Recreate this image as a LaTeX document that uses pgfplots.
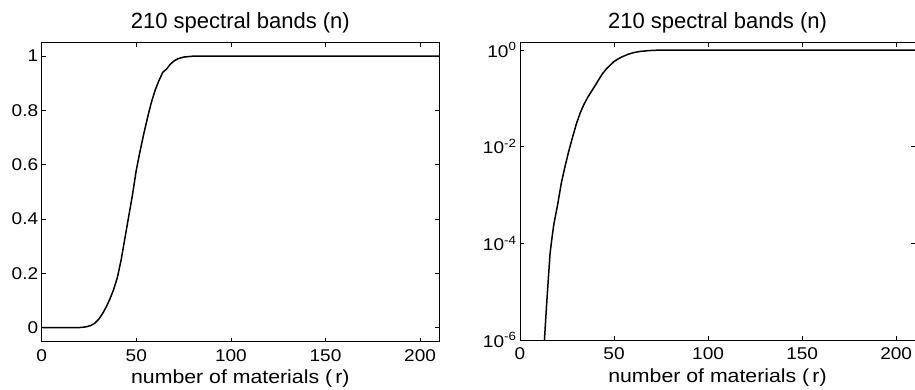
\documentclass[border=0pt]{standalone}
\usepackage{pgfplots}
\pgfplotsset{compat=1.18}
\usepackage{pgfplotstable}
\usepackage{fontspec}
\setmainfont{Liberation Sans}
\newfontfamily\widefont[FakeStretch=1.12]{Liberation Sans}
\pgfplotstableread{
x y
0 1e-14
5 1e-11
10 1.6e-8
11 6.3e-8
12 2.5e-7
13 1e-6
14 4.4e-6
15 1.7e-5
16 6.3e-5
17 1.3e-4
18 2.5e-4
20 6.3e-4
22 1.8e-3
24 4e-3
26 8.3e-3
28 0.016
30 0.03
32 0.05
34 0.075
36 0.105
38 0.14
40 0.185
42 0.25
44 0.33
46 0.41
48 0.49
50 0.58
52 0.65
54 0.715
56 0.775
58 0.83
60 0.875
62 0.91
64 0.94
66 0.952
68 0.97
70 0.982
72 0.99
75 0.996
80 0.9995
90 1
210 1
}\datatab
\pgfplotsset{
  common/.style={
    scale only axis,
    anchor=south west,
    xmin=0, xmax=210,
    xtick={0,50,100,150,200},
    tick align=inside,
    major tick length=4pt,
    axis line style={line width=0.8pt},
    every tick/.style={black, line width=0.6pt},
    /pgf/number format/assume math mode=true,
    tick label style={font=\widefont\fontsize{17}{20}\selectfont},
    xticklabel style={yshift=-4pt},
    title={210 spectral bands (n)},
    xlabel={number of materials (\,r)},
    title style={font=\fontsize{22}{26}\selectfont, yshift=0pt},
    xlabel style={font=\widefont\fontsize{19}{22}\selectfont, yshift=-2pt},
    clip=true,
  }
}
\begin{document}
\begin{tikzpicture}
\useasboundingbox (0,0) rectangle (915pt,390pt);
\begin{axis}[common,
  at={(41.7pt,48.3pt)},
  width=397.3pt, height=299pt,
  ymin=-0.0515, ymax=1.049,
  ytick={0,0.2,0.4,0.6,0.8,1},
  yticklabels={0,0.2,0.4,0.6,0.8,1},
]
\addplot[black, line width=1.5pt] table[x=x,y=y] {\datatab};
\end{axis}
\begin{axis}[common,
  at={(520pt,50pt)},
  width=395pt, height=297.3pt,
  ymode=log,
  ymin=1e-6, ymax=1.42,
  ytick={1e-6,1e-4,1e-2,1},
  yticklabels={10\textsuperscript{-6},10\textsuperscript{-4},10\textsuperscript{-2},10\textsuperscript{0}},
  minor ytick={},
  yminorticks=false,
]
\addplot[black, line width=1.5pt] table[x=x,y=y] {\datatab};
\end{axis}
\end{tikzpicture}
\end{document}
